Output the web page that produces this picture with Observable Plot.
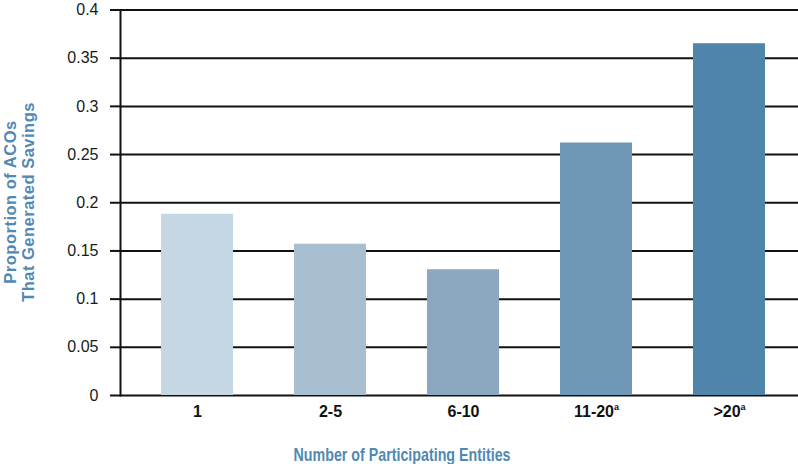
<!DOCTYPE html>
<html>
<head>
<meta charset="utf-8">
<script src="https://cdn.jsdelivr.net/npm/d3@7"></script>
<script src="https://cdn.jsdelivr.net/npm/@observablehq/plot@0.6"></script>
<style>
  html, body { margin: 0; padding: 0; background: #fff; }
  svg { display: block; }
</style>
</head>
<body>
<div id="chart"></div>
<script>
const categories = ["1", "2-5", "6-10", "11-20", ">20"];
const superscripts = ["", "", "", "a", "a"];
const values = [0.188, 0.157, 0.1305, 0.262, 0.365];
const barColors = ["#c4d7e3", "#a8bed1", "#8ba8c0", "#6f98b7", "#4f85aa"];
const yTicks = [0, 0.05, 0.1, 0.15, 0.2, 0.25, 0.3, 0.35, 0.4];
const xTitle = "Number of Participating Entities";
const yTitle = ["Proportion of ACOs", "That Generated Savings"];
const titleColor = "#5089b4";

const data = categories.map((c, i) => ({category: c, value: values[i], color: barColors[i]}));

const chart = Plot.plot({
  width: 798,
  height: 464,
  marginLeft: 120,
  marginRight: 0,
  marginTop: 9.5,
  marginBottom: 69,
  style: {fontFamily: "'Liberation Sans', Arial, sans-serif", background: "#fff"},
  x: {domain: categories, paddingInner: 0.4615, paddingOuter: 0.2768, align: 0.552},
  y: {domain: [0, 0.4]},
  marks: [
    Plot.ruleY(yTicks, {stroke: "#111", strokeWidth: 2}),
    Plot.barY(data, {x: "category", y: "value", fill: "color"}),
    Plot.axisY({ticks: yTicks, tickFormat: d => String(d), tickSize: 10, tickPadding: 12,
      strokeWidth: 2, stroke: "#111", fontSize: 16, fill: "#1a1a1a", label: null}),
    Plot.axisX({tickSize: 0, tickPadding: 10, fontSize: 16, fontWeight: "bold", fill: "#111", label: null}),
    Plot.frame({anchor: "left", stroke: "#111", strokeWidth: 2})
  ]
});

const svg = d3.select(chart);
// superscripts on x tick labels
svg.selectAll('g[aria-label="x-axis tick label"] text').each(function() {
  const idx = categories.indexOf(this.textContent);
  const sup = idx >= 0 ? superscripts[idx] : "";
  if (sup) {
    d3.select(this).append("tspan")
      .attr("font-size", 9)
      .attr("dy", "-0.75em")
      .text(sup);
  }
});

// x axis title
svg.append("text")
  .attr("x", 402)
  .attr("y", 461)
  .attr("text-anchor", "middle")
  .attr("font-family", "'Liberation Sans Narrow', 'Liberation Sans', Arial, sans-serif")
  .attr("font-size", 18.5)
  .attr("font-weight", "bold")
  .attr("fill", titleColor)
  .attr("textLength", 217)
  .attr("lengthAdjust", "spacingAndGlyphs")
  .text(xTitle);

// y axis title (two lines, rotated)
const yt = svg.append("text")
  .attr("transform", "translate(0,202) rotate(-90)")
  .attr("text-anchor", "middle")
  .attr("font-family", "'Liberation Sans', Arial, sans-serif")
  .attr("font-size", 16.5)
  .attr("font-weight", "bold")
  .attr("letter-spacing", 0.5)
  .attr("fill", titleColor);
yt.append("tspan").attr("x", 0).attr("y", 15.5).text(yTitle[0]);
yt.append("tspan").attr("x", 0).attr("y", 34).text(yTitle[1]);

document.getElementById("chart").appendChild(chart);
</script>
</body>
</html>
